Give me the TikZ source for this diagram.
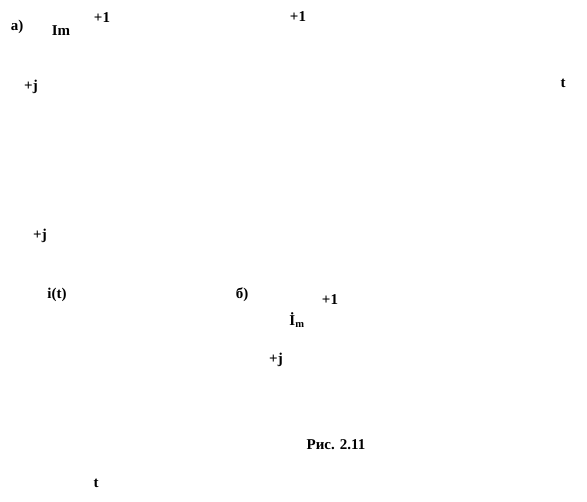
\documentclass[tikz,border=0pt]{standalone}
\usepackage{fontspec}
\setmainfont{Liberation Serif}
\usetikzlibrary{positioning}

\begin{document}
\begin{tikzpicture}[x=1pt,y=-1pt,
    lbl/.style={font=\fontsize{15}{17}\selectfont\bfseries,inner sep=0pt}]
    \useasboundingbox (0,0) rectangle (587,502);
    % подписи к рисунку а)
    \path
      node[lbl] (la) at (17,27) {а)}
      node[lbl] (im) at (61,31) {Im}
      node[lbl] (p1a) at (102,18) {+1}
      node[lbl] (p1b) at (298,17) {+1}
      node[lbl] (pja) at (31,87) {+j}
      node[lbl] (ta) at (563,83) {t}
      node[lbl] (pjb) at (40,236) {+j}
      node[lbl] (it) at (57,295) {i(t)}
      node[lbl] (tb) at (96,483) {t};
    % подписи к рисунку б)
    \path
      node[lbl] (lb) at (242,295) {б)}
      node[lbl] (p1c) at (330,300) {+1}
      node[lbl] (imv) at (297,320) {İ\textsubscript{m}}
      node[lbl] (pjc) at (276,360) {+j}
      node[lbl] (cap) at (336,445) {Рис. 2.11};
\end{tikzpicture}
\end{document}
